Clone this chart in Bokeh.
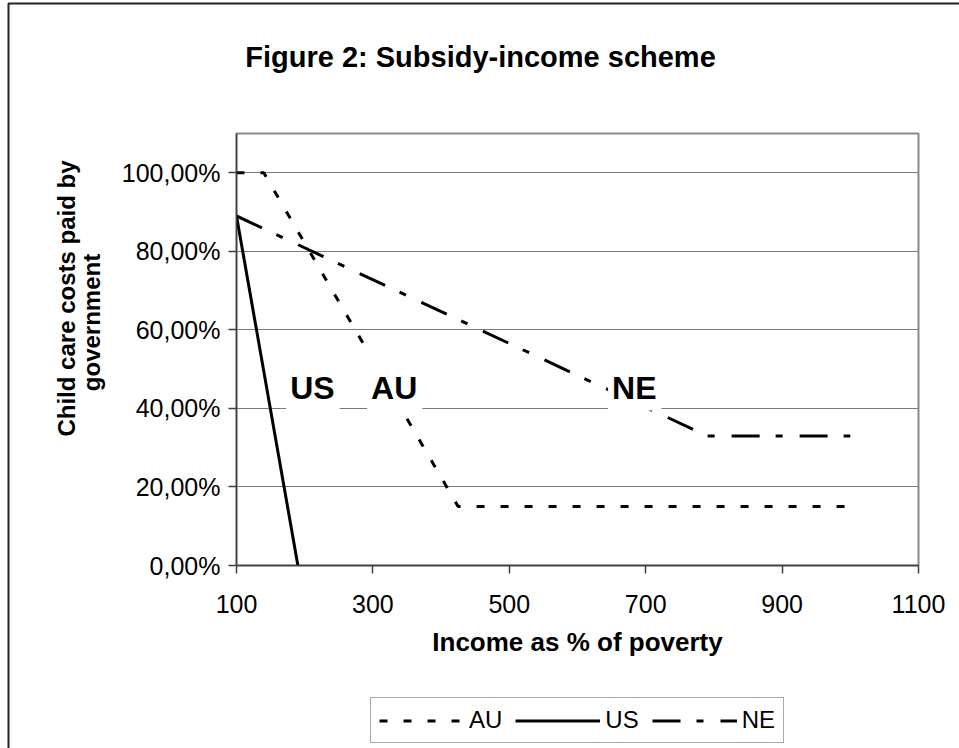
from bokeh.plotting import figure
from bokeh.models import (Range1d, FixedTicker, CustomJSTickFormatter, Label,
                          Legend, LegendItem, BoxAnnotation)
from bokeh.embed import file_html
from bokeh.resources import INLINE

# ---------------- data ----------------
income_au = [100, 140, 425, 1000]
share_au = [1.00, 1.00, 0.15, 0.15]

income_us = [100, 190]
share_us = [0.89, 0.00]

income_ne = [100, 790, 1000]
share_ne = [0.89, 0.33, 0.33]

x_ticks = [100, 300, 500, 700, 900, 1100]
y_ticks = [0.0, 0.2, 0.4, 0.6, 0.8, 1.0]

series_names = ["AU", "US", "NE"]
# in-plot country labels (annotation anchors, data units)
label_x = [212, 332, 684]
label_y = [0.471, 0.471, 0.471]
label_text = ["US", "AU", "NE"]

title_text = "Figure 2: Subsidy-income scheme"
xlabel_text = "Income as % of poverty"
ylabel_lines = ["Child care costs paid by", "government"]

# ---------------- layout constants (page pixels) ----------------
W, H = 959, 748
FRAME_L, FRAME_T, FRAME_R, FRAME_B = 236, 133, 918, 565
FONT = "Liberation Sans"
AU_DASH = "8 16"
NE_DASH = "28 16 7 17"

# ---------------- main chart ----------------
p = figure(width=W, height=H, x_range=Range1d(100, 1100), y_range=Range1d(0, 1.1),
           output_backend="svg", toolbar_location=None, title=None,
           min_border_left=FRAME_L, min_border_right=W - FRAME_R,
           min_border_top=FRAME_T, min_border_bottom=H - FRAME_B)
p.background_fill_color = "white"
p.border_fill_color = "white"
p.outline_line_color = "#8a8a8a"
p.outline_line_width = 2

for ax in (p.xaxis[0], p.yaxis[0]):
    ax.axis_line_color = "#404040"
    ax.axis_line_width = 1.5
    ax.major_tick_line_color = "#404040"
    ax.major_tick_line_width = 1.5
    ax.major_tick_in = 0
    ax.major_tick_out = 8
    ax.minor_tick_line_color = None
    ax.major_label_text_font = FONT
    ax.major_label_text_font_size = "25px"
    ax.major_label_text_color = "black"

p.xaxis.ticker = FixedTicker(ticks=x_ticks)
p.xaxis.major_label_standoff = 21
p.yaxis.ticker = FixedTicker(ticks=y_ticks)
p.yaxis.major_label_standoff = 8
p.yaxis.formatter = CustomJSTickFormatter(
    code="return (tick*100).toFixed(2).replace('.', ',') + '%';")

p.xgrid.visible = False
p.ygrid.grid_line_color = "#7a7a7a"
p.ygrid.grid_line_width = 1

r_au = p.line(income_au, share_au, line_color="black", line_width=3, line_dash=AU_DASH)
r_us = p.line(income_us, share_us, line_color="black", line_width=3)
r_ne = p.line(income_ne, share_ne, line_color="black", line_width=3, line_dash=NE_DASH)

for tx, lx, ly in zip(label_text, label_x, label_y):
    p.add_layout(Label(x=lx, y=ly, text=tx, text_align="center", text_baseline="middle",
                       text_font=FONT, text_font_size="32px", text_font_style="bold",
                       text_color="black", background_fill_color="white",
                       padding=(4, 5, 19, 5)))

# ---------------- overlay for texts outside the plot area ----------------
deco = figure(width=W, height=H, x_range=Range1d(0, W), y_range=Range1d(H, 0),
              x_axis_type=None, y_axis_type=None, min_border=0,
              output_backend="svg", toolbar_location=None, title=None)
deco.background_fill_color = None
deco.border_fill_color = None
deco.outline_line_color = None
deco.grid.visible = False
deco.styles = {"position": "absolute", "top": "0px", "left": "0px"}

deco.add_layout(Label(x=480, y=56, text=title_text, text_align="center", text_baseline="middle",
                      text_font=FONT, text_font_size="29px", text_font_style="bold",
                      text_color="black"))
deco.add_layout(Label(x=(FRAME_L + FRAME_R) / 2, y=641, text=xlabel_text,
                      text_align="center", text_baseline="middle",
                      text_font=FONT, text_font_size="26px", text_font_style="bold",
                      text_color="black"))
deco.add_layout(Label(x=66, y=298, text=ylabel_lines[0], angle=90, angle_units="deg",
                      text_align="center", text_baseline="middle",
                      text_font=FONT, text_font_size="24px", text_font_style="bold",
                      text_color="black"))
deco.add_layout(Label(x=91, y=322, text=ylabel_lines[1], angle=90, angle_units="deg",
                      text_align="center", text_baseline="middle",
                      text_font=FONT, text_font_size="24px", text_font_style="bold",
                      text_color="black"))

# outer chart-area border (right/bottom edges lie beyond the window)
deco.add_layout(BoxAnnotation(left=8, right=5000, top=3, bottom=5000,
                              fill_color=None, fill_alpha=0,
                              line_color="#222222", line_alpha=1, line_width=2))

# legend: hidden copies of the series supply the legend samples
s_au = deco.line(income_au, share_au, line_color="black", line_width=3, line_dash=AU_DASH,
                 visible=False)
s_us = deco.line(income_us, share_us, line_color="black", line_width=3, visible=False)
s_ne = deco.line(income_ne, share_ne, line_color="black", line_width=3, line_dash=NE_DASH,
                 visible=False)
legend = Legend(items=[LegendItem(label=n, renderers=[r]) for n, r in
                       zip(series_names, [s_au, s_us, s_ne])],
                location=(370, H - 743), orientation="horizontal",
                label_text_font=FONT, label_text_font_size="24px", label_text_color="black",
                glyph_width=85, glyph_height=21, label_height=21, label_standoff=5,
                spacing=13, padding=8, margin=0,
                border_line_color="#555555", border_line_width=1,
                background_fill_color="white", background_fill_alpha=1,
                inactive_fill_alpha=0, click_policy="none")
deco.add_layout(legend, "center")

open("out.html", "w").write(file_html([p, deco], INLINE))
